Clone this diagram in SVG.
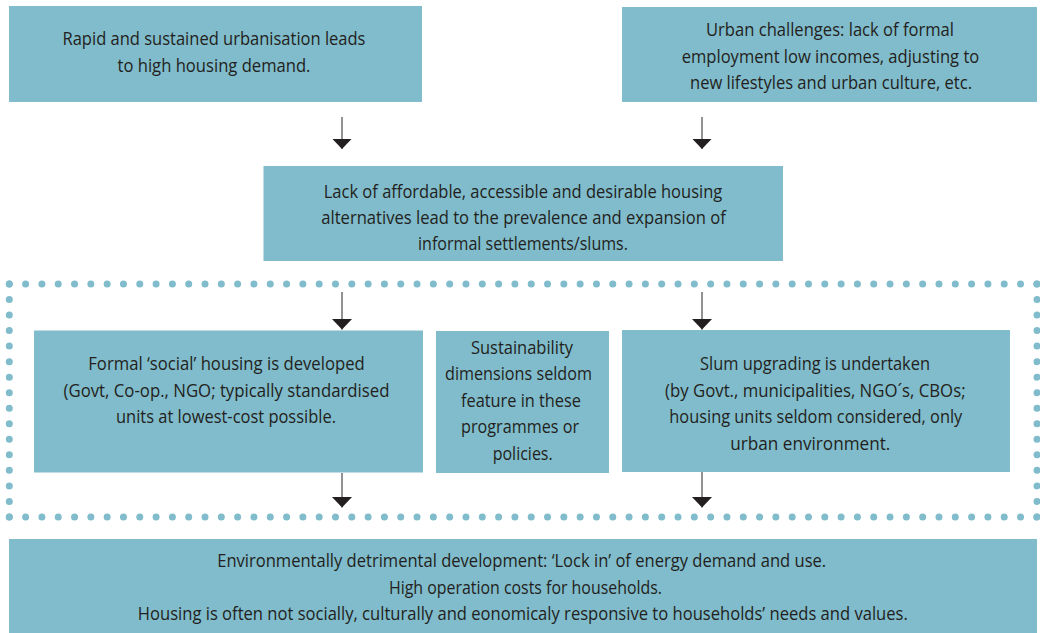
<svg xmlns="http://www.w3.org/2000/svg" width="1040" height="633" viewBox="0 0 1040 633">
<style>
.box{fill:#80bccb;}
.t{font-family:"Open Sans","Liberation Sans",sans-serif;font-size:19px;fill:#231f20;text-anchor:middle;}
.ln{stroke:#6d6e71;stroke-width:1.5;fill:none;}
.dot{stroke:#80bccb;stroke-width:7;stroke-linecap:round;fill:none;}
</style>
<defs>
<marker id="ah" viewBox="0 0 10.5 20" markerWidth="10.5" markerHeight="20" refX="10.5" refY="10" orient="auto" markerUnits="userSpaceOnUse">
<path d="M0,0 L10.5,10 L0,20 Z" fill="#231f20"/>
</marker>
</defs>
<rect width="1040" height="633" fill="#ffffff"/>

<g id="frame">
<path class="dot" d="M9.3,284 H1037.5" stroke-dasharray="0 16.31"/>
<path class="dot" d="M9.3,517 H1037.5" stroke-dasharray="0 16.31"/>
<path class="dot" d="M9.3,284 V517.5" stroke-dasharray="0 15.53"/>
<path class="dot" d="M1037,284 V517.5" stroke-dasharray="0 15.53"/>
</g>

<g id="connectors">
<path class="ln" d="M342,117 V149" marker-end="url(#ah)"/>
<path class="ln" d="M702,117 V149" marker-end="url(#ah)"/>
<path class="ln" d="M342,292 V329.5" marker-end="url(#ah)"/>
<path class="ln" d="M702,292 V329.5" marker-end="url(#ah)"/>
<path class="ln" d="M342,473 V507.5" marker-end="url(#ah)"/>
<path class="ln" d="M702,472 V507.5" marker-end="url(#ah)"/>
</g>

<g id="n1">
<rect class="box" x="9" y="6" width="413" height="96"/>
<text class="t" x="214" y="45" textLength="303" lengthAdjust="spacingAndGlyphs">Rapid and sustained urbanisation leads</text>
<text class="t" x="214" y="71.5" textLength="193" lengthAdjust="spacingAndGlyphs">to high housing demand.</text>
</g>

<g id="n2">
<rect class="box" x="622" y="7" width="415" height="95"/>
<text class="t" x="830" y="35.5" textLength="248" lengthAdjust="spacingAndGlyphs">Urban challenges: lack of formal</text>
<text class="t" x="830.5" y="62.5" textLength="297.5" lengthAdjust="spacingAndGlyphs">employment low incomes, adjusting to</text>
<text class="t" x="831" y="89" textLength="282" lengthAdjust="spacingAndGlyphs">new lifestyles and urban culture, etc.</text>
</g>

<g id="n3">
<rect class="box" x="263.5" y="166" width="519.5" height="95"/>
<text class="t" x="523" y="197.5" textLength="398.5" lengthAdjust="spacingAndGlyphs">Lack of affordable, accessible and desirable housing</text>
<text class="t" x="523.5" y="223.5" textLength="404.5" lengthAdjust="spacingAndGlyphs">alternatives lead to the prevalence and expansion of</text>
<text class="t" x="523" y="250" textLength="210" lengthAdjust="spacingAndGlyphs">informal settlements/slums.</text>
</g>

<g id="n4">
<rect class="box" x="34" y="330.5" width="389" height="142"/>
<text class="t" x="226.5" y="370" textLength="276.5" lengthAdjust="spacingAndGlyphs">Formal ‘social’ housing is developed</text>
<text class="t" x="226.5" y="396.5" textLength="326" lengthAdjust="spacingAndGlyphs">(Govt, Co-op., NGO; typically standardised</text>
<text class="t" x="226" y="423" textLength="220" lengthAdjust="spacingAndGlyphs">units at lowest-cost possible.</text>
</g>

<g id="n5">
<rect class="box" x="436" y="331" width="173" height="142"/>
<text class="t" x="522" y="353.5" textLength="102" lengthAdjust="spacingAndGlyphs">Sustainability</text>
<text class="t" x="518.5" y="380" textLength="147" lengthAdjust="spacingAndGlyphs">dimensions seldom</text>
<text class="t" x="521" y="406.5" textLength="120" lengthAdjust="spacingAndGlyphs">feature in these</text>
<text class="t" x="520" y="433" textLength="118" lengthAdjust="spacingAndGlyphs">programmes or</text>
<text class="t" x="522.7" y="459.5" textLength="60" lengthAdjust="spacingAndGlyphs">policies.</text>
</g>

<g id="n6">
<rect class="box" x="622" y="330" width="388" height="142"/>
<text class="t" x="815" y="370" textLength="230" lengthAdjust="spacingAndGlyphs">Slum upgrading is undertaken</text>
<text class="t" x="815.3" y="396.5" textLength="300.5" lengthAdjust="spacingAndGlyphs">(by Govt., municipalities, NGO´s, CBOs;</text>
<text class="t" x="815.8" y="423" textLength="293" lengthAdjust="spacingAndGlyphs">housing units seldom considered, only</text>
<text class="t" x="810.3" y="449.5" textLength="160" lengthAdjust="spacingAndGlyphs">urban environment.</text>
</g>

<g id="n7">
<rect class="box" x="9" y="539" width="1028" height="94"/>
<text class="t" x="521.7" y="567" textLength="609" lengthAdjust="spacingAndGlyphs">Environmentally detrimental development: ‘Lock in’ of energy demand and use.</text>
<text class="t" x="525.5" y="593.5" textLength="273" lengthAdjust="spacingAndGlyphs">High operation costs for households.</text>
<text class="t" x="522.8" y="620" textLength="770" lengthAdjust="spacingAndGlyphs">Housing is often not socially, culturally and eonomicaly responsive to households’ needs and values.</text>
</g>
</svg>
